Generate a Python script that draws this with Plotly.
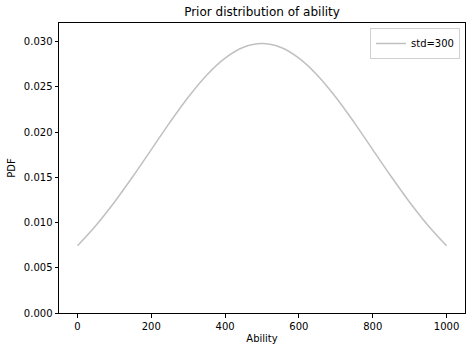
import plotly.graph_objects as go

ability = [0, 50, 100, 150, 200, 250, 300, 350, 400, 450, 500,
           550, 600, 650, 700, 750, 800, 850, 900, 950, 1000]
pdf = [0.00743, 0.00968, 0.01225, 0.01509, 0.01807, 0.02106, 0.02386, 0.02630, 0.02819, 0.02939, 0.02980,
       0.02939, 0.02819, 0.02630, 0.02386, 0.02106, 0.01807, 0.01509, 0.01225, 0.00968, 0.00743]
series_name = "std=300"

W, H = 472, 352
L, R, T, B = 59, 7, 23, 39
font = "DejaVu Sans, Verdana, sans-serif"

fig = go.Figure()
fig.add_trace(go.Scatter(x=ability, y=pdf, mode="lines", name=series_name,
                         line=dict(color="#c0c0c0", width=1.5, shape="spline"),
                         showlegend=True))

fig.update_layout(
    width=W, height=H,
    margin=dict(l=L, r=R, t=T, b=B, pad=0),
    paper_bgcolor="white", plot_bgcolor="white",
    font=dict(family=font, size=10, color="black"),
    title=dict(text="Prior distribution of ability", x=(L + (W - L - R) / 2) / W, xanchor="center",
               y=1 - 12 / H, yanchor="middle", font=dict(size=12, family=font)),
    showlegend=True,
    legend=dict(x=1 - 5 / (W - L - R), y=1 - 5 / (H - T - B), xanchor="right", yanchor="top",
                bgcolor="white", bordercolor="#d0d0d0", borderwidth=1,
                font=dict(size=10, family=font), itemwidth=30, tracegroupgap=0),
)
fig.update_xaxes(range=[-50, 1050], tickmode="array", tickvals=[0, 200, 400, 600, 800, 1000],
                 showline=True, linecolor="black", linewidth=1, mirror=True,
                 ticks="outside", ticklen=3.5, tickcolor="black", showgrid=False, zeroline=False,
                 title=dict(text="Ability", font=dict(size=10), standoff=4))
fig.update_yaxes(range=[0, 0.03207], tickmode="array",
                 tickvals=[0, 0.005, 0.01, 0.015, 0.02, 0.025, 0.03], tickformat=".3f",
                 showline=True, linecolor="black", linewidth=1, mirror=True,
                 ticks="outside", ticklen=3.5, tickcolor="black", showgrid=False, zeroline=False,
                 title=dict(text="PDF", font=dict(size=10), standoff=6))

fig.write_html("out.html")
